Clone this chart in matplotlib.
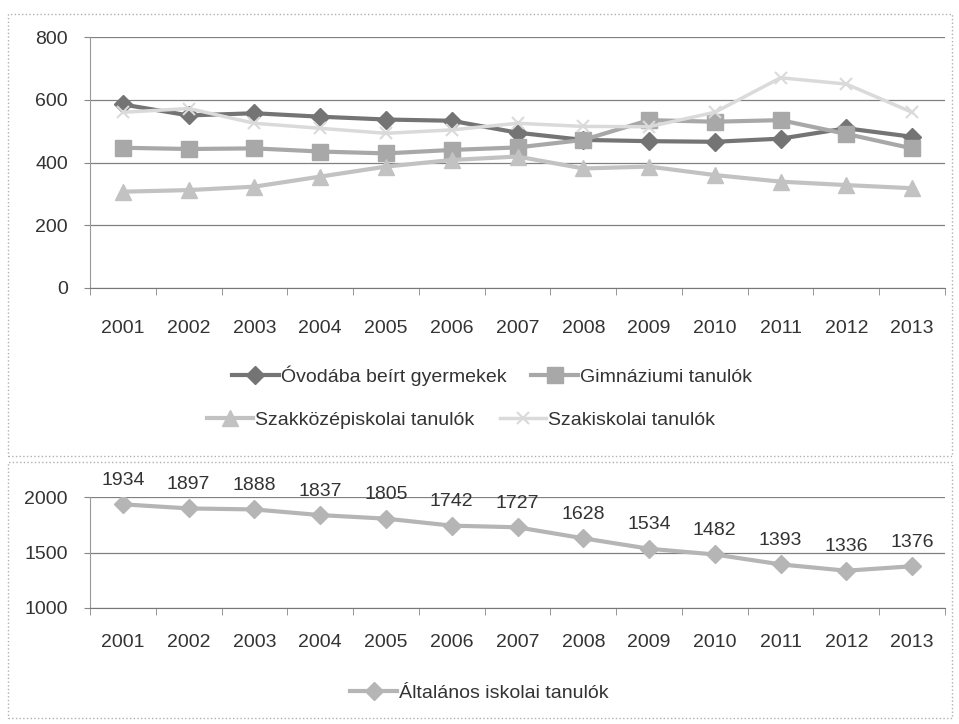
import matplotlib.pyplot as plt
import matplotlib.patches as patches
import numpy as np

plt.rcParams['font.family'] = ['Liberation Sans', 'DejaVu Sans']

# data
years = ['2001', '2002', '2003', '2004', '2005', '2006', '2007',
         '2008', '2009', '2010', '2011', '2012', '2013']
ovoda = [585, 550, 557, 546, 537, 533, 495, 472, 468, 466, 476, 509, 482]
gimnazium = [447, 443, 445, 435, 429, 440, 448, 472, 535, 530, 535, 491, 445]
szakkozep = [307, 312, 323, 355, 387, 408, 419, 381, 387, 360, 339, 328, 318]
szakiskola = [560, 572, 525, 509, 493, 504, 525, 515, 514, 560, 670, 650, 560]
altalanos = [1934, 1897, 1888, 1837, 1805, 1742, 1727, 1628, 1534, 1482, 1393, 1336, 1376]

x = np.arange(len(years))

fig = plt.figure(figsize=(9.59, 7.24), dpi=100)

# dotted frames round both panels
for (y0, y1) in [(14, 456), (462, 718)]:
    fig.patches.append(patches.Rectangle((8 / 959, 1 - y1 / 724), 944 / 959, (y1 - y0) / 724,
                                         transform=fig.transFigure, fill=False,
                                         edgecolor='#b0b0b0', linestyle=':', linewidth=1))

def style_axes(ax, yticks, xpad):
    ax.set_xlim(-0.4, 12.5)
    ax.set_xticks(x)
    ax.set_xticklabels(years)
    ax.set_xticks(np.arange(-0.5, 12.6, 1), minor=True)
    ax.tick_params(axis='x', which='major', length=0, labelsize=14, pad=xpad, colors='#333333')
    ax.tick_params(axis='x', which='minor', length=5, color='#888888')
    ax.set_yticks(yticks)
    ax.tick_params(axis='y', length=4, color='#888888', labelsize=14, colors='#333333', pad=12)
    ax.grid(axis='y', color='#808080', linewidth=0.9)
    ax.set_axisbelow(True)
    for s in ['top', 'right']:
        ax.spines[s].set_visible(False)
    ax.spines['left'].set_color('#999999')
    ax.spines['bottom'].set_color('#777777')

legend_kw = dict(frameon=False, fontsize=14, handlelength=2.4, handletextpad=0.1,
                 columnspacing=1.3, labelcolor='#333333')

# top panel
ax1 = fig.add_axes([90 / 959, 1 - 288 / 724, 855 / 959, 251 / 724])
l1, = ax1.plot(x, ovoda, color='#747474', lw=3, marker='D', ms=9, label='Óvodába beírt gyermekek')
l2, = ax1.plot(x, gimnazium, color='#a8a8a8', lw=3, marker='s', ms=12, label='Gimnáziumi tanulók')
l3, = ax1.plot(x, szakkozep, color='#c2c2c2', lw=3, marker='^', ms=11, label='Szakközépiskolai tanulók')
l4, = ax1.plot(x, szakiskola, color='#dadada', lw=2.5, marker='x', ms=9, mew=1.5, label='Szakiskolai tanulók')
ax1.set_ylim(0, 800)
style_axes(ax1, [0, 200, 400, 600, 800], 23)

fig.legend(handles=[l1, l2], ncol=2, loc='center', bbox_to_anchor=(492 / 959, 1 - 376 / 724), **legend_kw)
fig.legend(handles=[l3, l4], ncol=2, loc='center', bbox_to_anchor=(461 / 959, 1 - 420 / 724), **legend_kw)

# bottom panel
ax2 = fig.add_axes([90 / 959, 1 - 608 / 724, 855 / 959, 111 / 724])
l5, = ax2.plot(x, altalanos, color='#b5b5b5', lw=3, marker='D', ms=9, label='Általános iskolai tanulók')
ax2.set_ylim(1000, 2000)
style_axes(ax2, [1000, 1500, 2000], 19)
for xi, v in zip(x, altalanos):
    ax2.annotate(str(v), (xi, v), xytext=(0, 11), textcoords='offset points',
                 ha='center', va='bottom', fontsize=14, color='#333333')

fig.legend(handles=[l5], loc='center', bbox_to_anchor=(0.50, 1 - 693 / 724), **legend_kw)

fig.savefig('out.png', dpi=100)
